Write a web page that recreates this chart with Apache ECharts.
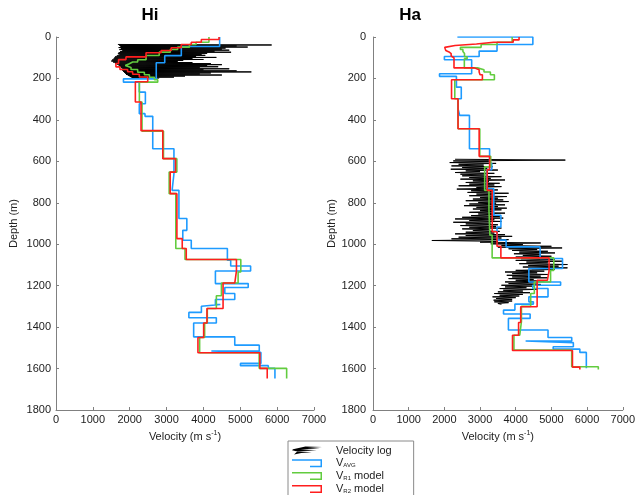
<!DOCTYPE html>
<html><head><meta charset="utf-8">
<script src="https://cdn.jsdelivr.net/npm/echarts@6/dist/echarts.min.js"></script>
<style>html,body{margin:0;padding:0;background:#fff}#c{width:638px;height:495px}</style>
</head><body><div id="c"></div>
<script>
// ---------- DATA ----------
const panelTitles = ['Hi', 'Ha'];
const xTicks = [0, 1000, 2000, 3000, 4000, 5000, 6000, 7000];
const yTicks = [0, 200, 400, 600, 800, 1000, 1200, 1400, 1600, 1800];
const seriesNames = ['Velocity log', 'VAVG', 'VR1 model', 'VR2 model'];

// Hi — velocity log (depth start, depth step, velocities)
const hiLogStart = 36, hiLogStep = 2.5;
const hiLogVel = [1680, 5850, 1720, 4900, 1750, 5200, 1700, 4600, 1760, 4500, 1720, 4700, 1800, 4300, 1740, 4750, 1700, 4100, 1680, 3950, 1720, 4050, 1650, 3800, 1600, 4350, 1580, 3700, 1560, 4000, 1520, 3450, 1500, 3300, 1550, 3700, 1600, 4200, 1650, 4500, 1700, 4100, 1720, 4400, 1760, 3900, 1800, 4700, 1760, 4000, 1800, 4900, 1820, 5300, 1850, 4200, 1880, 3900, 1900, 4500, 1950, 3500, 2000, 3200, 2050, 2800];

// Hi — step models (layer top depth, layer velocity, bottom depth)
const hiAvgTop = [0, 46, 90, 124, 202, 218, 266, 322, 370, 383, 539, 660, 740, 876, 933, 981, 1021, 1077, 1105, 1129, 1190, 1209, 1238, 1267, 1291, 1299, 1329, 1355, 1380, 1447, 1487, 1515, 1522, 1575, 1586, 1599];
const hiAvgVel = [4440, 3400, 2950, 2720, 1830, 2260, 2425, 2260, 2415, 2625, 3200, 3150, 3335, 3550, 3440, 3670, 4650, 4740, 5280, 4325, 5215, 4580, 4850, 4325, 4460, 3945, 3605, 4350, 3735, 4850, 5515, 4215, 5560, 5005, 5760, 5940];
const hiAvgBottom = 1648;

const hiR1Top = [0, 25, 36, 49, 60, 73, 89, 110, 121, 129, 138, 147, 157, 170, 182, 194, 206, 218, 314, 454, 587, 652, 756, 1021, 1074, 1134, 1187, 1249, 1310, 1380, 1450, 1524, 1599];
const hiR1Vel = [4150, 3800, 3620, 3300, 3100, 2800, 2443, 2216, 2080, 1990, 1880, 2035, 2216, 2398, 2534, 2670, 2760, 2262, 2334, 2916, 3279, 3070, 3250, 3500, 5014, 4941, 4488, 4351, 4105, 4033, 3897, 5513, 6258];
const hiR1Bottom = 1648;

const hiR2Top = [0, 12, 25, 36, 52, 65, 76, 96, 109, 128, 144, 157, 168, 180, 193, 216, 314, 452, 587, 652, 756, 973, 1021, 1074, 1129, 1187, 1310, 1380, 1450, 1524, 1599];
const hiR2Vel = [4423, 3943, 3670, 3397, 3125, 2852, 2443, 1898, 1698, 1625, 1735, 1943, 2080, 2261, 2489, 2153, 2307, 2897, 3243, 3098, 3280, 3425, 3534, 4896, 4851, 4533, 4096, 4006, 3851, 5532, 5731];
const hiR2Bottom = 1648;

// Ha — velocity log
const haLogStart = 590, haLogStep = 4;
const haLogVel = [
  2300, 5390, 2250, 3300, 2150, 3450, 2400, 3100, 2200, 3350,
  2500, 3200, 2180, 3500, 2600, 3000, 2300, 3400, 2450, 3150,
  2500, 3600, 2700, 3300, 2450, 3700, 2800, 3250, 2600, 3550,
  2700, 3400, 2400, 3600, 2900, 3200, 2350, 3500, 2750, 3350,
  2650, 3800, 2900, 3400, 2700, 3750, 3000, 3500, 2800, 3650,
  2600, 3800, 2950, 3450, 2700, 3700, 2550, 3500, 2900, 3750,
  2800, 3600, 3000, 3350, 2700, 3700, 2950, 3400, 2750, 3550,
  2500, 3650, 2300, 3400, 2700, 3600, 2250, 3300, 2600, 3500,
  2450, 3450, 2700, 3600, 2500, 3250, 2800, 3550, 2600, 3400,
  2300, 3700, 2600, 3900, 2400, 3600, 2200, 3800, 1650, 3500,
  3000, 4700, 3300, 4200, 3600, 5000, 3500, 5300, 3800, 4600,
  3900, 4900, 4100, 5100, 3950, 4700, 4200, 5000, 4000, 4800,
  4150, 5100, 4000, 5300, 4300, 4900, 4100, 5450, 4350, 5200,
  4200, 5450, 4450, 5100, 4000, 4800, 3700, 4600, 3900, 4900,
  3750, 4700, 3900, 4900, 3800, 4500, 4000, 4800, 3700, 4600,
  3800, 4700, 3600, 4500, 3700, 4300, 3550, 4600, 3650, 4200,
  3500, 4400, 3400, 4200, 3550, 4100, 3350, 4000, 3450, 3900,
  3380, 3900, 3400, 3800, 3500, 3600];

// Ha — step models
const haAvgTop = [0, 0, 36, 68, 94, 110, 177, 190, 242, 298, 346, 378, 539, 610, 640, 732, 860, 917, 956, 980, 1013, 1069, 1117, 1182, 1198, 1214, 1254, 1278, 1289, 1318, 1337, 1358, 1414, 1450, 1467, 1475, 1495, 1506, 1522];
const haAvgVel = [2365, 4480, 3476, 2975, 2001, 2765, 1864, 2338, 2474, 2383, 2429, 2703, 3268, 3330, 3190, 3385, 3585, 3476, 3500, 3730, 4683, 5311, 4368, 5258, 4477, 4905, 4368, 4495, 3977, 3658, 4404, 3795, 4905, 5570, 4277, 5615, 5050, 5797, 5979];
const haAvgBottom = 1599;

const haR1Top = [0, 25, 36, 50, 60, 70, 80, 88, 95, 105, 149, 158, 169, 182, 206, 298, 443, 576, 626, 740, 836, 956, 1066, 1126, 1182, 1238, 1300, 1374, 1439, 1511, 1591];
const haR1Vel = [3900, 3476, 3030, 2450, 2520, 2565, 2611, 2565, 2638, 2560, 2930, 3111, 3290, 3402, 2292, 2383, 2993, 3300, 3130, 3250, 3276, 3339, 5067, 4977, 4522, 4420, 4160, 4113, 3950, 5569, 6315];
const haR1Bottom = 1604;

const haR2Top = [0, 14, 25, 34, 41, 50, 58, 65, 72, 80, 92, 100, 149, 158, 169, 182, 206, 298, 443, 576, 640, 740, 940, 1010, 1066, 1129, 1174, 1302, 1378, 1439, 1513, 1593];
const haR2Vel = [4094, 3930, 3380, 2900, 2300, 2010, 2040, 2080, 2130, 2190, 2230, 2270, 2839, 2975, 3000, 3066, 2201, 2383, 2975, 3268, 3200, 3340, 3476, 3584, 4934, 4888, 4600, 4140, 4080, 3910, 5590, 5797];
const haR2Bottom = 1604;

// ---------- BUILD ----------
function stepPoints(tops, vels, bottom) {
  const pts = [];
  for (let i = 0; i < tops.length; i++) {
    const next = i + 1 < tops.length ? tops[i + 1] : bottom;
    pts.push([vels[i], tops[i]]);
    pts.push([vels[i], next]);
  }
  return pts;
}
function logPoints(start, step, vels) {
  return vels.map((v, i) => [v, start + i * step]);
}

const FONT = '"Liberation Sans", Arial, Helvetica, sans-serif';
const AX = '#808080';
const COLORS = ['#000000', '#1e9bff', '#62cc3f', '#ff1e1e'];

const panels = [
  { log: logPoints(hiLogStart, hiLogStep, hiLogVel),
    avg: stepPoints(hiAvgTop, hiAvgVel, hiAvgBottom),
    r1: stepPoints(hiR1Top, hiR1Vel, hiR1Bottom),
    r2: stepPoints(hiR2Top, hiR2Vel, hiR2Bottom) },
  { log: logPoints(haLogStart, haLogStep, haLogVel),
    avg: stepPoints(haAvgTop, haAvgVel, haAvgBottom),
    r1: stepPoints(haR1Top, haR1Vel, haR1Bottom),
    r2: stepPoints(haR2Top, haR2Vel, haR2Bottom) }
];

const grids = [
  { left: 56, top: 37, width: 258, height: 373 },
  { left: 373, top: 37, width: 256, height: 373 }
];

const plain = v => String(v);

const xAxes = grids.map((g, i) => ({
  type: 'value', gridIndex: i, min: xTicks[0], max: xTicks[xTicks.length - 1], interval: 1000,
  axisLine: { show: true, onZero: false, lineStyle: { color: AX, width: 1 } },
  axisTick: { show: true, inside: true, length: 3, lineStyle: { color: AX } },
  axisLabel: { color: '#222', fontSize: 11, fontFamily: FONT, margin: 4, formatter: plain },
  splitLine: { show: false },
  name: '{t|Velocity (m s}{sup|-1}{t|)}',
  nameLocation: 'middle', nameGap: 16,
  nameTextStyle: {
    fontFamily: FONT, fontSize: 11, color: '#222',
    rich: {
      t: { fontFamily: FONT, fontSize: 11, color: '#222', lineHeight: 14 },
      sup: { fontFamily: FONT, fontSize: 7, color: '#222', verticalAlign: 'top', lineHeight: 14, padding: [0, 0, 6, 0] }
    }
  }
}));

const yAxes = grids.map((g, i) => ({
  type: 'value', gridIndex: i, inverse: true, min: yTicks[0], max: yTicks[yTicks.length - 1], interval: 200,
  axisLine: { show: true, onZero: false, lineStyle: { color: AX, width: 1 } },
  axisTick: { show: true, inside: true, length: 3, lineStyle: { color: AX } },
  axisLabel: { color: '#222', fontSize: 11, fontFamily: FONT, margin: i === 0 ? 5 : 7, formatter: plain },
  splitLine: { show: false },
  name: 'Depth (m)', nameLocation: 'middle', nameRotate: 90, nameGap: i === 0 ? 37 : 31,
  nameTextStyle: { fontFamily: FONT, fontSize: 11, color: '#222' }
}));

const series = [];
panels.forEach((p, i) => {
  const sets = [p.log, p.avg, p.r1, p.r2];
  sets.forEach((d, k) => {
    series.push({
      type: 'line', name: seriesNames[k], xAxisIndex: i, yAxisIndex: i,
      data: d, showSymbol: false, symbol: 'none', smooth: false,
      color: COLORS[k],
      lineStyle: { color: COLORS[k], width: k === 0 ? 1 : 1.6 },
      z: 2 + k, silent: true
    });
  });
});

const logIcon = 'path://M2,3 L14,0.5 L30,1 L16,1.8 L28,2.6 L9,3.4 L25,4.2 L5,5 L20,5.8 L10,6.6 L3,8 L6,5.2 L1,4 Z';
const stepIcon = 'path://M0,0 L30,0 L30,8 L18,8 L18,6.5 L28.5,6.5 L28.5,1.5 L0,1.5 Z';

const legendLabels = {
  'Velocity log': '{g|}{t|Velocity log}',
  'VAVG': '{g|}{t|V}{sub|AVG}',
  'VR1 model': '{g|}{t|V}{sub|R1}{t| model}',
  'VR2 model': '{g|}{t|V}{sub|R2}{t| model}'
};

const option = {
  animation: false,
  backgroundColor: '#ffffff',
  grid: grids,
  xAxis: xAxes,
  yAxis: yAxes,
  series: series,
  legend: {
    orient: 'vertical', left: 288, top: 441, height: 120,
    padding: [4, 22, 12, 4],
    borderColor: '#8a8a8a', borderWidth: 1, backgroundColor: '#fff',
    itemWidth: 30, itemHeight: 8, itemGap: 1.8,
    symbolKeepAspect: false,
    selectedMode: false,
    data: [
      { name: 'Velocity log', icon: logIcon },
      { name: 'VAVG', icon: stepIcon },
      { name: 'VR1 model', icon: stepIcon },
      { name: 'VR2 model', icon: stepIcon }
    ],
    formatter: n => legendLabels[n],
    textStyle: {
      fontFamily: FONT, fontSize: 11, color: '#222',
      rich: {
        g: { width: 9 },
        t: { fontFamily: FONT, fontSize: 11, color: '#222', lineHeight: 11 },
        sub: { fontFamily: FONT, fontSize: 6, color: '#222', verticalAlign: 'bottom', lineHeight: 11, padding: [4, 0, 0, 0] }
      }
    }
  },
  graphic: panelTitles.map((t, i) => ({
    type: 'text', x: i === 0 ? 150 : 410, y: 15,
    style: { text: t, font: 'bold 17px ' + FONT, fill: '#000', align: 'center', verticalAlign: 'middle', textAlign: 'center', textVerticalAlign: 'middle' }
  }))
};

const chart = echarts.init(document.getElementById('c'), null, { renderer: 'canvas' });
chart.setOption(option);
</script>
</body></html>
